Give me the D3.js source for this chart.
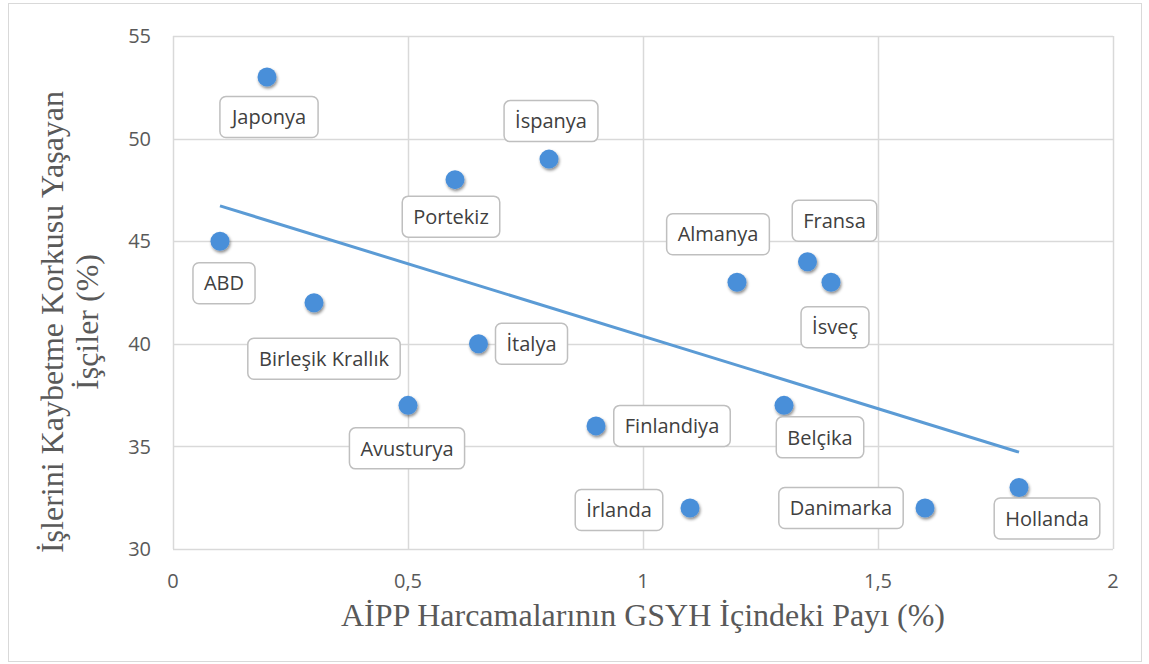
<!DOCTYPE html>
<html>
<head>
<meta charset="utf-8">
<script src="https://cdn.jsdelivr.net/npm/d3@7"></script>
<style>
  body { margin: 0; background: #fff; }
  svg { display: block; }
</style>
</head>
<body>
<svg id="chart"></svg>
<script>
// data
var countries = ["Japonya", "ABD", "Birleşik Krallık", "Portekiz", "İspanya", "İtalya", "Avusturya",
                 "Finlandiya", "İrlanda", "Almanya", "Fransa", "İsveç", "Belçika", "Danimarka", "Hollanda"]
var spending = [0.2, 0.1, 0.3, 0.6, 0.8, 0.65, 0.5, 0.9, 1.1, 1.2, 1.35, 1.4, 1.3, 1.6, 1.8]
var fear = [53, 45, 42, 48, 49, 40, 37, 36, 32, 43, 44, 43, 37, 32, 33]
var xTicks = [0, 0.5, 1, 1.5, 2]
var yTicks = [30, 35, 40, 45, 50, 55]

// label box placement relative to each dot (px)
var labelOffset = {
  "Japonya": [2, 40], "ABD": [4, 42], "Birleşik Krallık": [10, 56], "Portekiz": [-4, 37],
  "İspanya": [2, -38], "İtalya": [53, 0], "Avusturya": [-1, 43], "Finlandiya": [76, 0],
  "İrlanda": [-71, 2], "Almanya": [-19, -48], "Fransa": [27, -41], "İsveç": [4, 45],
  "Belçika": [36, 32], "Danimarka": [-84, 0], "Hollanda": [28, 31]
}

var dimensions = { width: 1149, height: 664 }
var margin = { left: 173, right: 1113, top: 36, bottom: 549 }

var svg = d3.select("#chart")
  .attr("width", dimensions.width)
  .attr("height", dimensions.height)

var defs = svg.append("defs")
var shadow = defs.append("filter").attr("id", "shadow")
  .attr("x", "-50%").attr("y", "-50%").attr("width", "200%").attr("height", "200%")
shadow.append("feDropShadow")
  .attr("dx", 1).attr("dy", 2).attr("stdDeviation", 1.5)
  .attr("flood-color", "#000").attr("flood-opacity", 0.45)

// outer border
svg.append("rect")
  .attr("x", 8.5).attr("y", 3.5)
  .attr("width", 1133).attr("height", 658)
  .attr("fill", "none").attr("stroke", "#d9d9d9")

var x = d3.scaleLinear().domain([0, 2]).range([margin.left, margin.right])
var y = d3.scaleLinear().domain([30, 55]).range([margin.bottom, margin.top])

// grid
svg.append("g").selectAll("line")
  .data(xTicks)
  .join("line")
  .attr("x1", d => Math.round(x(d)) + 0.5).attr("x2", d => Math.round(x(d)) + 0.5)
  .attr("y1", margin.top).attr("y2", margin.bottom)
  .attr("stroke", "#d9d9d9").attr("stroke-width", 1.5)

svg.append("g").selectAll("line")
  .data(yTicks)
  .join("line")
  .attr("x1", margin.left).attr("x2", margin.right)
  .attr("y1", d => Math.round(y(d)) + 0.5).attr("y2", d => Math.round(y(d)) + 0.5)
  .attr("stroke", "#d9d9d9").attr("stroke-width", 1.5)

// tick labels
svg.append("g").selectAll("text")
  .data(xTicks)
  .join("text")
  .attr("x", d => x(d))
  .attr("y", 588)
  .attr("text-anchor", "middle")
  .attr("font-family", "Open Sans, sans-serif")
  .attr("font-size", 20)
  .attr("fill", "#595959")
  .text(d => String(d).replace(".", ","))

svg.append("g").selectAll("text")
  .data(yTicks)
  .join("text")
  .attr("x", 151)
  .attr("y", d => y(d))
  .attr("dy", "0.36em")
  .attr("text-anchor", "end")
  .attr("font-family", "Open Sans, sans-serif")
  .attr("font-size", 20)
  .attr("fill", "#595959")
  .text(d => d)

// axis titles
svg.append("text")
  .attr("x", (margin.left + margin.right) / 2)
  .attr("y", 626)
  .attr("text-anchor", "middle")
  .attr("font-family", "Liberation Serif, Times New Roman, serif")
  .attr("font-size", 32)
  .attr("fill", "#595959")
  .text("AİPP Harcamalarının GSYH İçindeki Payı (%)")

var yTitle = svg.append("text")
  .attr("transform", "translate(63," + 322 + ") rotate(-90)")
  .attr("text-anchor", "middle")
  .attr("font-family", "Liberation Serif, Times New Roman, serif")
  .attr("font-size", 32)
  .attr("fill", "#595959")
yTitle.append("tspan").attr("x", 0).attr("dy", 0).text("İşlerini Kaybetme Korkusu Yaşayan")
yTitle.append("tspan").attr("x", 0).attr("dy", "1.1em").text("İşçiler (%)")

// trend line (least squares)
var mx = d3.mean(spending), my = d3.mean(fear)
var sxy = d3.sum(spending, (v, i) => (v - mx) * (fear[i] - my))
var sxx = d3.sum(spending, v => (v - mx) * (v - mx))
var slope = sxy / sxx
var intercept = my - slope * mx
var xMin = d3.min(spending), xMax = d3.max(spending)

svg.append("line")
  .attr("x1", x(xMin)).attr("y1", y(intercept + slope * xMin))
  .attr("x2", x(xMax)).attr("y2", y(intercept + slope * xMax))
  .attr("stroke", "#5b9bd5")
  .attr("stroke-width", 3)

// points
var data = countries.map((c, i) => ({ name: c, sx: spending[i], fy: fear[i] }))

svg.append("g").selectAll("circle")
  .data(data)
  .join("circle")
  .attr("cx", d => x(d.sx))
  .attr("cy", d => y(d.fy))
  .attr("r", 9.5)
  .attr("fill", "#4a8fd9")
  .attr("filter", "url(#shadow)")

// labels
var labels = svg.append("g").selectAll("g")
  .data(data)
  .join("g")
  .attr("transform", d => "translate(" + (x(d.sx) + labelOffset[d.name][0]) + "," + (y(d.fy) + labelOffset[d.name][1]) + ")")

labels.append("rect")
  .attr("class", "box")
labels.append("text")
  .attr("text-anchor", "middle")
  .attr("dy", "0.36em")
  .attr("font-family", "Open Sans, sans-serif")
  .attr("font-size", 20)
  .attr("fill", "#404040")
  .text(d => d.name)

labels.each(function() {
  var g = d3.select(this)
  var bb = g.select("text").node().getBBox()
  var w = bb.width + 22, h = 41
  g.select("rect")
    .attr("x", -w / 2).attr("y", -h / 2)
    .attr("width", w).attr("height", h)
    .attr("rx", 6)
    .attr("fill", "#fff")
    .attr("stroke", "#bfbfbf")
    .attr("stroke-width", 1.5)
})
</script>
</body>
</html>
